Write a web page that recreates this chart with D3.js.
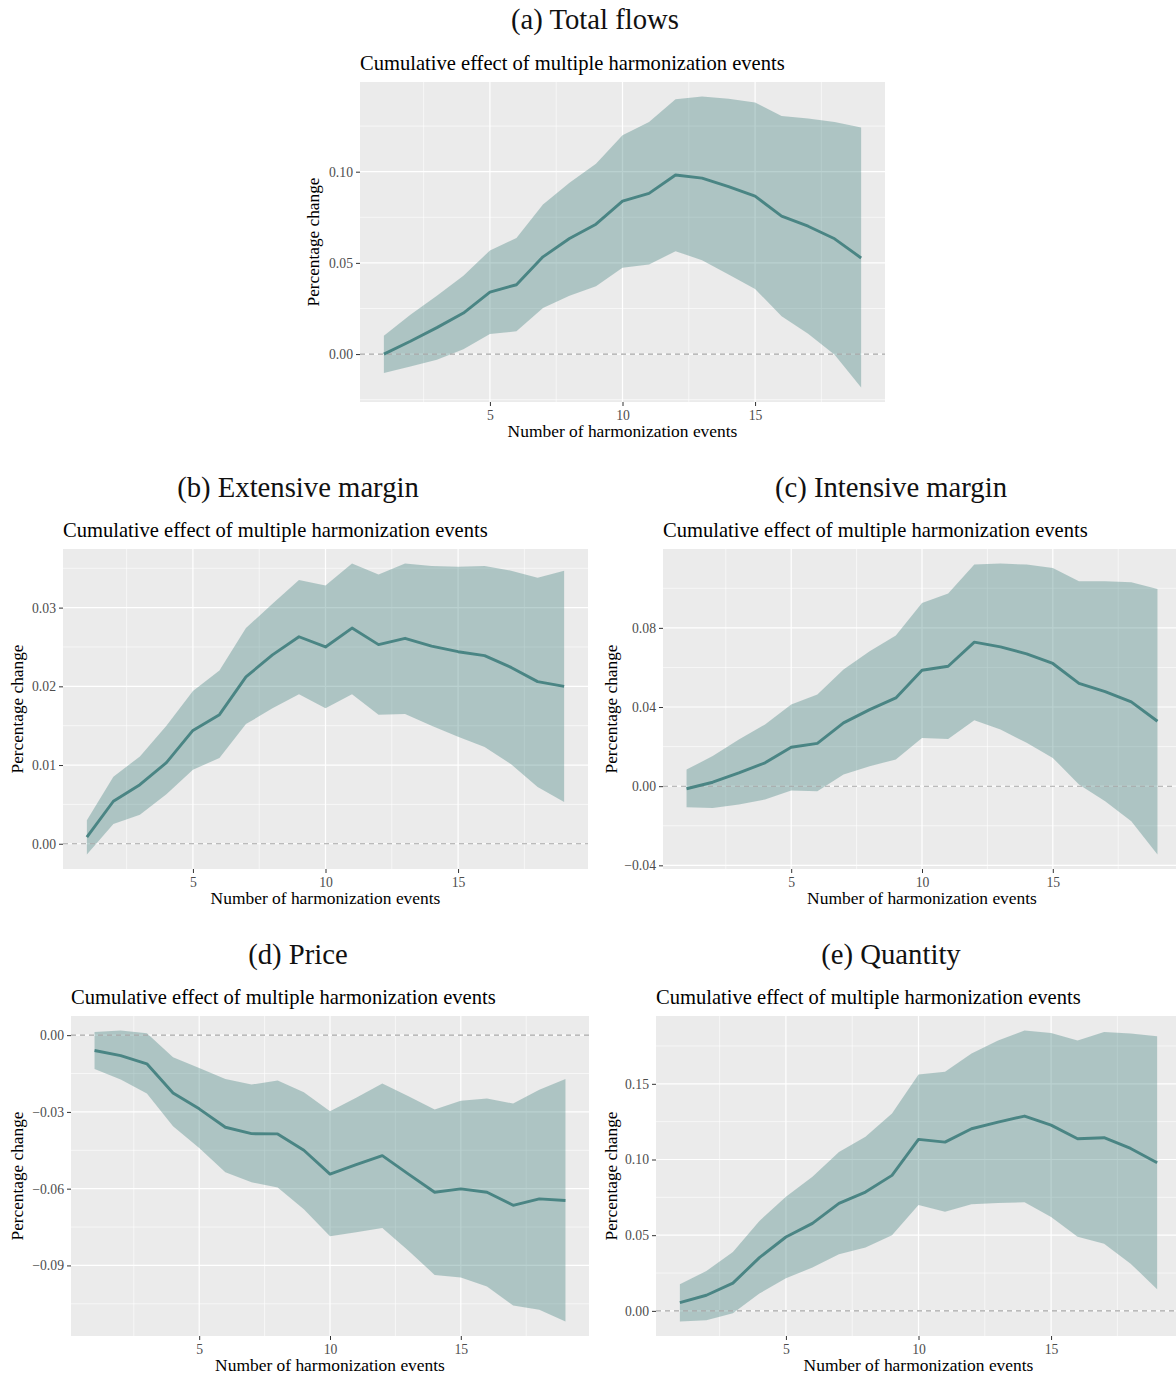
<!DOCTYPE html>
<html><head><meta charset="utf-8">
<script src="https://cdn.jsdelivr.net/npm/d3@7"></script>
<style>body{margin:0;background:#fff}</style>
</head><body><svg id="c" width="1176" height="1376"></svg>
<script>
// ---- data ----
const events = [1,2,3,4,5,6,7,8,9,10,11,12,13,14,15,16,17,18,19];
const xTicks = [5,10,15];

const totalEst = [0.000,0.0070,0.0145,0.0225,0.0340,0.0380,0.0533,0.0634,0.0712,0.0839,0.0881,0.0982,0.0965,0.0918,0.0866,0.0756,0.0701,0.0632,0.0527];
const totalHi  = [0.0101,0.0216,0.0320,0.0430,0.0568,0.0637,0.0820,0.0940,0.1044,0.1200,0.1273,0.1397,0.1412,0.1400,0.1379,0.1306,0.1291,0.1273,0.1242];
const totalLo  = [-0.0104,-0.0068,-0.0031,0.0027,0.0110,0.0125,0.0253,0.0320,0.0372,0.0473,0.0491,0.0564,0.0515,0.0436,0.0357,0.0207,0.0112,-0.0004,-0.0183];
const totalTicks = [0,0.05,0.10];

const extEst = [0.00085,0.0054,0.0075,0.0103,0.0144,0.0164,0.0212,0.0240,0.0263,0.0250,0.0274,0.0253,0.0261,0.0251,0.0244,0.0239,0.0224,0.0206,0.0200];
const extHi  = [0.0030,0.0085,0.0111,0.0150,0.0194,0.0220,0.0274,0.0305,0.0335,0.0328,0.0356,0.0342,0.0356,0.0353,0.0352,0.0353,0.0347,0.0338,0.0347];
const extLo  = [-0.00136,0.0025,0.0037,0.0063,0.0094,0.0109,0.0152,0.0172,0.0190,0.0172,0.0190,0.0164,0.0165,0.0150,0.0136,0.0123,0.0101,0.0072,0.0053];
const extTicks = [0,0.01,0.02,0.03];

const intEst = [-0.0013,0.0020,0.0067,0.0118,0.0197,0.0216,0.0320,0.0387,0.0446,0.0586,0.0606,0.0728,0.0704,0.0669,0.0620,0.0519,0.0478,0.0426,0.0328];
const intHi  = [0.0084,0.0152,0.0236,0.0312,0.0413,0.0463,0.0590,0.0682,0.0761,0.0926,0.0974,0.1120,0.1125,0.1120,0.1103,0.1036,0.1036,0.1031,0.0997];
const intLo  = [-0.0106,-0.0110,-0.0093,-0.0067,-0.0022,-0.0025,0.0059,0.0101,0.0135,0.0244,0.0239,0.0333,0.0286,0.0219,0.0143,0.0008,-0.0076,-0.0177,-0.0345];
const intTicks = [-0.04,0,0.04,0.08];

const priceEst = [-0.0060,-0.0080,-0.0112,-0.0226,-0.0288,-0.0360,-0.0385,-0.0386,-0.0450,-0.0543,-0.0506,-0.0471,-0.0543,-0.0614,-0.0601,-0.0614,-0.0665,-0.0640,-0.0646];
const priceHi  = [0.0012,0.0018,0.0007,-0.0086,-0.0128,-0.0171,-0.0193,-0.0177,-0.0223,-0.0297,-0.0245,-0.0189,-0.0239,-0.0291,-0.0256,-0.0248,-0.0267,-0.0213,-0.0171];
const priceLo  = [-0.0132,-0.0173,-0.0228,-0.0356,-0.0441,-0.0536,-0.0575,-0.0595,-0.0680,-0.0786,-0.0770,-0.0754,-0.0843,-0.0937,-0.0947,-0.0982,-0.1057,-0.1073,-0.1119];
const priceTicks = [-0.09,-0.06,-0.03,0];

const qtyEst = [0.0055,0.0103,0.0183,0.0352,0.0488,0.0578,0.0710,0.0785,0.0895,0.1133,0.1115,0.1203,0.1247,0.1287,0.1227,0.1137,0.1144,0.1073,0.0979];
const qtyHi  = [0.0176,0.0264,0.0389,0.0594,0.0754,0.0886,0.1049,0.1150,0.1304,0.1561,0.1579,0.1700,0.1786,0.1852,0.1836,0.1786,0.1843,0.1832,0.1814];
const qtyLo  = [-0.0070,-0.0062,-0.0015,0.0114,0.0216,0.0286,0.0374,0.0418,0.0499,0.0699,0.0655,0.0704,0.0713,0.0717,0.0620,0.0490,0.0444,0.0312,0.0143];
const qtyTicks = [0,0.05,0.10,0.15];

const captions = ["(a) Total flows","(b) Extensive margin","(c) Intensive margin","(d) Price","(e) Quantity"];
const subtitle = "Cumulative effect of multiple harmonization events";
const xTitle = "Number of harmonization events";
const yTitle = "Percentage change";

// ---- drawing ----
const SERIF = "'Liberation Serif','DejaVu Serif',serif";
const LINE = "#4a8584";
const svg = d3.select('#c');

function fitSize(text, target, base){
  const t = svg.append('text').attr('font-family',SERIF).attr('font-size',base).text(text);
  const w = t.node().getComputedTextLength(); t.remove();
  return base*target/w;
}
const capSize = fitSize(captions[0],168,24);
const subSize = fitSize(subtitle,425,17);
const xtSize = fitSize(xTitle,230,14);
const ytSize = fitSize(yTitle,129,14);
const tickSize = fitSize("0.10",24,11);

function panel(p){
  const g = svg.append('g');
  const ext = d3.extent(p.lo.concat(p.hi));
  const pad = (ext[1]-ext[0])*0.05;
  const y = d3.scaleLinear().domain([ext[0]-pad, ext[1]+pad]).range([p.top+p.h, p.top]);
  const x = d3.scaleLinear().domain([1-0.9, 19+0.9]).range([p.left, p.left+p.w]);
  const [x0,x1] = x.range(), [y1,y0] = y.range();

  // caption & subtitle
  svg.append('text').attr('x',p.capX).attr('y',p.capY).attr('text-anchor','middle')
    .attr('font-family',SERIF).attr('font-size',capSize).attr('fill','#111').text(p.caption);
  svg.append('text').attr('x',p.left).attr('y',p.top-12).attr('font-family',SERIF)
    .attr('font-size',subSize).attr('fill','#000').text(subtitle);

  g.append('rect').attr('x',x0).attr('y',y0).attr('width',x1-x0).attr('height',y1-y0).attr('fill','#EBEBEB');

  // minor gridlines
  const step = p.ticks[1]-p.ticks[0];
  const yMinor = [];
  for(let v=p.ticks[0]-step/2; v<=p.ticks[p.ticks.length-1]+step; v+=step){
    if(v>=y.domain()[0] && v<=y.domain()[1]) yMinor.push(v);
  }
  const xMinor = [2.5,7.5,12.5,17.5];
  g.selectAll('.ymin').data(yMinor).join('line').attr('x1',x0).attr('x2',x1)
    .attr('y1',d=>y(d)).attr('y2',d=>y(d)).attr('stroke','#fff').attr('stroke-width',0.6);
  g.selectAll('.xmin').data(xMinor).join('line').attr('y1',y0).attr('y2',y1)
    .attr('x1',d=>x(d)).attr('x2',d=>x(d)).attr('stroke','#fff').attr('stroke-width',0.6);
  // major gridlines
  g.selectAll('.ymaj').data(p.ticks).join('line').attr('x1',x0).attr('x2',x1)
    .attr('y1',d=>y(d)).attr('y2',d=>y(d)).attr('stroke','#fff').attr('stroke-width',1.2);
  g.selectAll('.xmaj').data(xTicks).join('line').attr('y1',y0).attr('y2',y1)
    .attr('x1',d=>x(d)).attr('x2',d=>x(d)).attr('stroke','#fff').attr('stroke-width',1.2);

  // ribbon
  const area = d3.area().x((d,i)=>x(events[i])).y0((d,i)=>y(p.lo[i])).y1((d,i)=>y(p.hi[i]));
  g.append('path').datum(events).attr('d',area).attr('fill',LINE).attr('fill-opacity',0.38);

  // zero line
  g.append('line').attr('x1',x0).attr('x2',x1).attr('y1',y(0)).attr('y2',y(0))
    .attr('stroke','#a6a6a6').attr('stroke-width',1.1).attr('stroke-dasharray','5,4');

  // estimate line
  const line = d3.line().x((d,i)=>x(events[i])).y((d,i)=>y(p.est[i]));
  g.append('path').datum(events).attr('d',line).attr('fill','none').attr('stroke',LINE)
    .attr('stroke-width',2.9).attr('stroke-linejoin','round');

  // axes
  const fmt = d3.format('.2f');
  const ya = g.append('g').attr('transform',`translate(${x0},0)`)
    .call(d3.axisLeft(y).tickValues(p.ticks).tickFormat(fmt).tickSize(4).tickPadding(3));
  const xa = g.append('g').attr('transform',`translate(0,${y1})`)
    .call(d3.axisBottom(x).tickValues(xTicks).tickFormat(d3.format('d')).tickSize(4).tickPadding(4));
  [ya,xa].forEach(a=>{
    a.select('.domain').remove();
    a.selectAll('line').attr('stroke','#333').attr('stroke-width',1);
    a.selectAll('text').attr('fill','#4d4d4d').attr('font-family',SERIF).attr('font-size',tickSize);
  });

  // axis titles
  svg.append('text').attr('x',(x0+x1)/2).attr('y',y1+35).attr('text-anchor','middle')
    .attr('font-family',SERIF).attr('font-size',xtSize).attr('fill','#000').text(xTitle);
  svg.append('text').attr('transform',`translate(${p.yTitleX},${(y0+y1)/2}) rotate(-90)`)
    .attr('dy','0.35em').attr('text-anchor','middle')
    .attr('font-family',SERIF).attr('font-size',ytSize).attr('fill','#000').text(yTitle);
}

panel({caption:captions[0],capX:595,capY:29,left:360,top:82,w:525,h:320,est:totalEst,lo:totalLo,hi:totalHi,ticks:totalTicks,yTitleX:313});
panel({caption:captions[1],capX:298,capY:497,left:63,top:549,w:525,h:320,est:extEst,lo:extLo,hi:extHi,ticks:extTicks,yTitleX:17});
panel({caption:captions[2],capX:891,capY:497,left:663,top:549,w:518,h:320,est:intEst,lo:intLo,hi:intHi,ticks:intTicks,yTitleX:611});
panel({caption:captions[3],capX:298,capY:964,left:71,top:1016,w:518,h:320,est:priceEst,lo:priceLo,hi:priceHi,ticks:priceTicks,yTitleX:17});
panel({caption:captions[4],capX:891,capY:964,left:656,top:1016,w:525,h:320,est:qtyEst,lo:qtyLo,hi:qtyHi,ticks:qtyTicks,yTitleX:611});
</script>
</body></html>
